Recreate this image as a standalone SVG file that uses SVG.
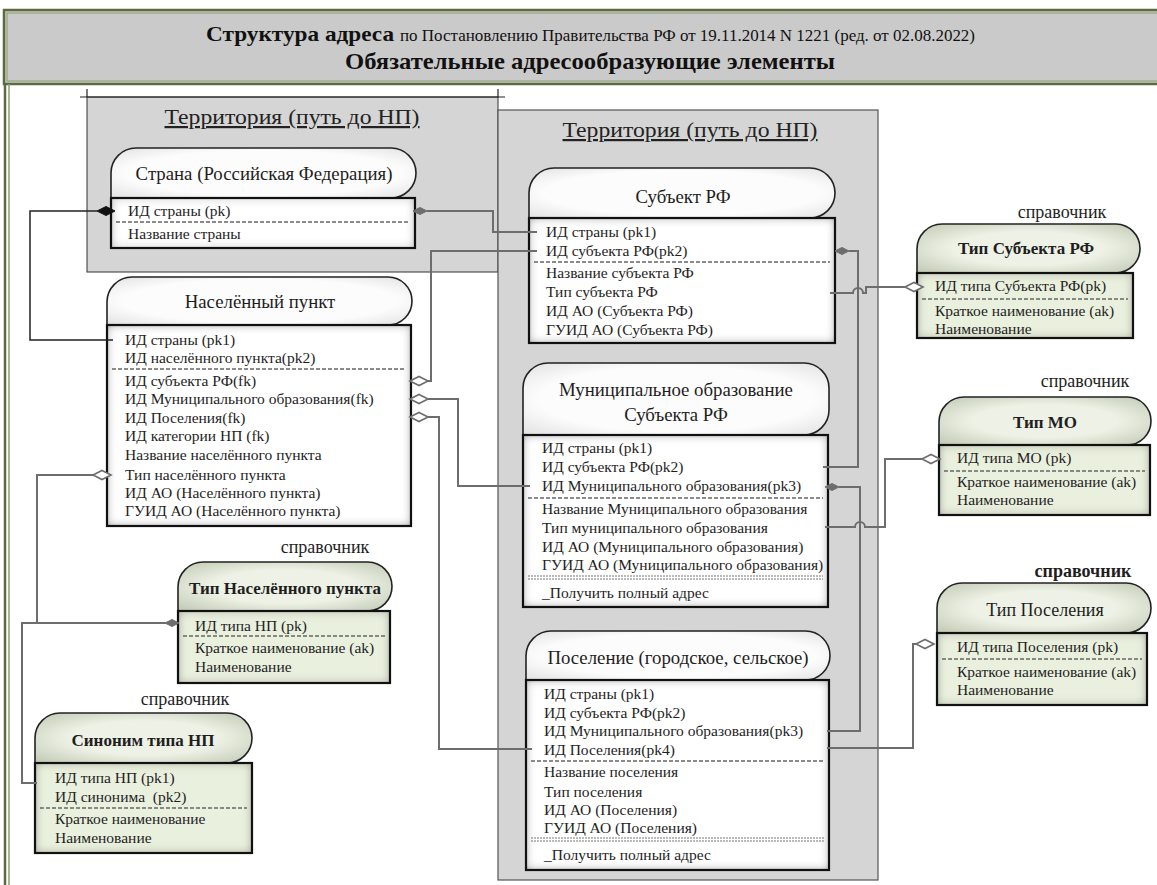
<svg xmlns="http://www.w3.org/2000/svg" width="1157" height="885" viewBox="0 0 1157 885" font-family="'Liberation Serif', 'Times New Roman', serif">
<defs>
<style type="text/css">
text{font-family:'Liberation Serif','Times New Roman',serif}
.t{font-size:15.5px;fill:#1e1e1e}
.h{font-size:18.8px;text-anchor:middle}
.hb{font-size:17px;text-anchor:middle;font-weight:bold}
.hr{font-size:18px;text-anchor:middle}
.sp{font-size:18px;text-anchor:middle}
.ttl{fill:#111}
.hdr{fill:url(#gW);stroke:#222;stroke-width:1.6}
.hdrG{fill:url(#gG);stroke:#222;stroke-width:1.6}
.body{fill:#fff;filter:url(#inset)}
.bodyG{fill:#eaf0de;filter:url(#inset)}
.brd{fill:none;stroke:#111;stroke-width:2.2}
.dash{stroke:#666;stroke-width:1.3;stroke-dasharray:4 2}
.dot{stroke:#777;stroke-width:1;stroke-dasharray:2 1}
.cn{fill:none;stroke:#6d6d6d;stroke-width:2}
.cd{fill:none;stroke:#222;stroke-width:1.5}
.dh{fill:#fff;stroke:#6d6d6d;stroke-width:1.6}
.df{fill:#6d6d6d;stroke:#6d6d6d;stroke-width:1}
.db{fill:#111;stroke:#111;stroke-width:1}
.terr{font-size:22px;fill:#222;text-anchor:middle;text-decoration:underline}
</style>
<radialGradient id="gW" cx="50%" cy="50%" r="75%">
<stop offset="0.6" stop-color="#fcfcfc"/><stop offset="1" stop-color="#dcdcdc"/>
</radialGradient>
<radialGradient id="gG" cx="50%" cy="50%" r="75%">
<stop offset="0.45" stop-color="#eef2e6"/><stop offset="1" stop-color="#b9c2ab"/>
</radialGradient>
<filter id="inset" x="-5%" y="-5%" width="110%" height="110%">
<feFlood flood-color="#000" flood-opacity="0.75" result="f"/>
<feComposite in="f" in2="SourceAlpha" operator="out" result="o"/>
<feGaussianBlur in="o" stdDeviation="5" result="b"/>
<feComposite in="b" in2="SourceAlpha" operator="in" result="s"/>
<feMerge><feMergeNode in="SourceGraphic"/><feMergeNode in="s"/></feMerge>
</filter>
<polygon id="dia" points="-9,0 0,-4.5 9,0 0,4.5"/>
<polygon id="dias" points="-7,0 0,-3.5 7,0 0,3.5"/>
</defs>

<rect width="1157" height="885" fill="#fff"/>

<g id="frame">
<rect x="4" y="10" width="1160" height="74" fill="#cacaca" stroke="#5b6b3e" stroke-width="2.5"/>
<rect x="7" y="13" width="1160" height="68" fill="none" stroke="#8d9c70" stroke-width="1"/>
<line x1="5" y1="84" x2="5" y2="885" stroke="#5b6b3e" stroke-width="2.5"/>
<line x1="9" y1="84" x2="9" y2="885" stroke="#8d9c70" stroke-width="1.5"/>
<text class="ttl" x="206" y="41" style="font-size:21px;font-weight:bold" textLength="188" lengthAdjust="spacingAndGlyphs">Структура адреса</text>
<text class="ttl" x="400" y="41" style="font-size:16px" textLength="575" lengthAdjust="spacingAndGlyphs">по Постановлению Правительства РФ от 19.11.2014 N 1221 (ред. от 02.08.2022)</text>
<text class="ttl" x="345" y="69" style="font-size:24px;font-weight:bold" textLength="490" lengthAdjust="spacingAndGlyphs">Обязательные адресообразующие элементы</text>
</g>

<g id="territory-left">
<rect x="87" y="97" width="411" height="175" fill="#d5d5d5" stroke="#333" stroke-width="1"/>
<line x1="80" y1="97" x2="505" y2="97" stroke="#222" stroke-width="1.2"/>
<line x1="87" y1="89" x2="87" y2="97" stroke="#222" stroke-width="1.2"/>
<line x1="498" y1="89" x2="498" y2="97" stroke="#222" stroke-width="1.2"/>
<text class="terr" x="292" y="124" textLength="255" lengthAdjust="spacingAndGlyphs">Территория (путь до НП)</text>
</g>

<g id="territory-right">
<rect x="498" y="110" width="380" height="770" fill="#d5d5d5" stroke="#555" stroke-width="1.2"/>
<text class="terr" x="690" y="137" textLength="255" lengthAdjust="spacingAndGlyphs">Территория (путь до НП)</text>
</g>

<g id="strana">
<path class="hdr" d="M111,198 V173 A25,25 0 0 1 136,148 H391 A25,25 0 0 1 416,173 A25,25 0 0 1 391,198 Z"/>
<text class="t h" x="264" y="180">Страна (Российская Федерация)</text>
<rect class="body" x="111" y="198" width="304" height="50"/>
<rect class="brd" x="111" y="198" width="304" height="50"/>
<text class="t" x="128" y="216">ИД страны (pk)</text>
<line class="dash" x1="116" y1="222" x2="410" y2="222"/>
<text class="t" x="128" y="239">Название страны</text>
</g>

<g id="naselenny-punkt">
<path class="hdr" d="M107,325 V302 A25,25 0 0 1 132,277 H388 A24,24 0 0 1 412,301 A24,24 0 0 1 388,325 Z"/>
<text class="t h" x="260" y="308">Населённый пункт</text>
<rect class="body" x="107" y="325" width="304" height="201"/>
<rect class="brd" x="107" y="325" width="304" height="201"/>
<text class="t" x="125" y="345">ИД страны (pk1)</text>
<text class="t" x="125" y="363">ИД населённого пункта(pk2)</text>
<line class="dash" x1="112" y1="369" x2="406" y2="369"/>
<text class="t" x="125" y="386">ИД субъекта РФ(fk)</text>
<text class="t" x="125" y="404">ИД Муниципального образования(fk)</text>
<text class="t" x="125" y="423">ИД Поселения(fk)</text>
<text class="t" x="125" y="441">ИД категории НП (fk)</text>
<text class="t" x="125" y="460">Название населённого пункта</text>
<text class="t" x="125" y="480">Тип населённого пункта</text>
<text class="t" x="125" y="498">ИД АО (Населённого пункта)</text>
<text class="t" x="125" y="516">ГУИД АО (Населённого пункта)</text>
</g>

<g id="subekt-rf">
<path class="hdr" d="M529,218 V193 A25,25 0 0 1 554,168 H810 A25,25 0 0 1 835,193 A25,25 0 0 1 810,218 Z"/>
<text class="t h" x="683" y="203">Субъект РФ</text>
<rect class="body" x="529" y="218" width="306" height="125"/>
<rect class="brd" x="529" y="218" width="306" height="125"/>
<text class="t" x="546" y="237">ИД страны (pk1)</text>
<text class="t" x="546" y="256">ИД субъекта РФ(pk2)</text>
<line class="dash" x1="534" y1="262" x2="830" y2="262"/>
<text class="t" x="546" y="278">Название субъекта РФ</text>
<text class="t" x="546" y="297">Тип субъекта РФ</text>
<text class="t" x="546" y="316">ИД АО (Субъекта РФ)</text>
<text class="t" x="546" y="335">ГУИД АО (Субъекта РФ)</text>
</g>

<g id="mun-obr">
<path class="hdr" d="M523,435 V388 A25,25 0 0 1 548,363 H804 A25,25 0 0 1 829,388 V410 A25,25 0 0 1 804,435 Z"/>
<text class="t h" x="676" y="396">Муниципальное образование</text>
<text class="t h" x="676" y="421">Субъекта РФ</text>
<rect class="body" x="523" y="435" width="305" height="172"/>
<rect class="brd" x="523" y="435" width="305" height="172"/>
<text class="t" x="542" y="453">ИД страны (pk1)</text>
<text class="t" x="542" y="472">ИД субъекта РФ(pk2)</text>
<text class="t" x="542" y="491">ИД Муниципального образования(pk3)</text>
<line class="dash" x1="528" y1="498" x2="823" y2="498"/>
<text class="t" x="542" y="514">Название Муниципального образования</text>
<text class="t" x="542" y="533">Тип муниципального образования</text>
<text class="t" x="542" y="552">ИД АО (Муниципального образования)</text>
<text class="t" x="542" y="570">ГУИД АО (Муниципального образования)</text>
<line class="dot" x1="528" y1="576" x2="823" y2="576"/>
<line class="dot" x1="528" y1="579" x2="823" y2="579"/>
<text class="t" x="542" y="598">_Получить полный адрес</text>
</g>

<g id="poselenie">
<path class="hdr" d="M526,680 V656 A25,25 0 0 1 551,631 H805 A24.5,24.5 0 0 1 830,655.5 A24.5,24.5 0 0 1 805,680 Z"/>
<text class="t h" x="678" y="664">Поселение (городское, сельское)</text>
<rect class="body" x="526" y="680" width="303" height="190"/>
<rect class="brd" x="526" y="680" width="303" height="190"/>
<text class="t" x="544" y="699">ИД страны (pk1)</text>
<text class="t" x="544" y="718">ИД субъекта РФ(pk2)</text>
<text class="t" x="544" y="736">ИД Муниципального образования(pk3)</text>
<text class="t" x="544" y="755">ИД Поселения(pk4)</text>
<line class="dash" x1="531" y1="761" x2="824" y2="761"/>
<text class="t" x="544" y="777">Название поселения</text>
<text class="t" x="544" y="797">Тип поселения</text>
<text class="t" x="544" y="815">ИД АО (Поселения)</text>
<text class="t" x="544" y="833">ГУИД АО (Поселения)</text>
<line class="dot" x1="531" y1="838" x2="824" y2="838"/>
<line class="dot" x1="531" y1="841" x2="824" y2="841"/>
<text class="t" x="544" y="860">_Получить полный адрес</text>
</g>

<g id="tip-subekta">
<text class="t sp" x="1062" y="218">справочник</text>
<path class="hdrG" d="M917,273 V249 A25,25 0 0 1 942,224 H1116 A24.5,24.5 0 0 1 1140,248.5 A24.5,24.5 0 0 1 1116,273 Z"/>
<text class="t hb" x="1026" y="254">Тип Субъекта РФ</text>
<rect class="bodyG" x="917" y="273" width="216" height="65"/>
<rect class="brd" x="917" y="273" width="216" height="65"/>
<text class="t" x="935" y="291">ИД типа Субъекта РФ(pk)</text>
<line class="dash" x1="922" y1="299" x2="1128" y2="299"/>
<text class="t" x="935" y="316">Краткое наименование (ak)</text>
<text class="t" x="935" y="334">Наименование</text>
</g>

<g id="tip-mo">
<text class="t sp" x="1085" y="387">справочник</text>
<path class="hdrG" d="M939,445 V422 A25,25 0 0 1 964,397 H1127 A24,24 0 0 1 1151,421 A24,24 0 0 1 1127,445 Z"/>
<text class="t hb" x="1045" y="428">Тип МО</text>
<rect class="bodyG" x="939" y="445" width="211" height="70"/>
<rect class="brd" x="939" y="445" width="211" height="70"/>
<text class="t" x="957" y="463">ИД типа МО (pk)</text>
<line class="dash" x1="944" y1="471" x2="1145" y2="471"/>
<text class="t" x="957" y="487">Краткое наименование (ak)</text>
<text class="t" x="957" y="505">Наименование</text>
</g>

<g id="tip-poseleniya">
<text class="t sp" x="1083" y="577" font-weight="bold">справочник</text>
<path class="hdrG" d="M937,633 V608 A25,25 0 0 1 962,583 H1126 A25,25 0 0 1 1151,608 A25,25 0 0 1 1126,633 Z"/>
<text class="t hr" x="1045" y="616">Тип Поселения</text>
<rect class="bodyG" x="937" y="633" width="210" height="72"/>
<rect class="brd" x="937" y="633" width="210" height="72"/>
<text class="t" x="957" y="652">ИД типа Поселения (pk)</text>
<line class="dash" x1="942" y1="659" x2="1142" y2="659"/>
<text class="t" x="957" y="677">Краткое наименование (ak)</text>
<text class="t" x="957" y="695">Наименование</text>
</g>

<g id="tip-np">
<text class="t sp" x="325" y="553">справочник</text>
<path class="hdrG" d="M178,611 V587 A25,25 0 0 1 203,562 H368 A24.5,24.5 0 0 1 392,586.5 A24.5,24.5 0 0 1 368,611 Z"/>
<text class="t hb" x="285" y="594">Тип Населённого пункта</text>
<rect class="bodyG" x="178" y="611" width="212" height="72"/>
<rect class="brd" x="178" y="611" width="212" height="72"/>
<text class="t" x="195" y="631">ИД типа НП (pk)</text>
<line class="dash" x1="183" y1="636" x2="385" y2="636"/>
<text class="t" x="195" y="653">Краткое наименование (ak)</text>
<text class="t" x="195" y="672">Наименование</text>
</g>

<g id="sinonim-tipa-np">
<text class="t sp" x="185" y="705">справочник</text>
<path class="hdrG" d="M35,763 V738 A25,25 0 0 1 60,713 H227 A25,25 0 0 1 252,738 A25,25 0 0 1 227,763 Z"/>
<text class="t hb" x="143" y="746">Синоним типа НП</text>
<rect class="bodyG" x="35" y="763" width="217" height="90"/>
<rect class="brd" x="35" y="763" width="217" height="90"/>
<text class="t" x="55" y="783">ИД типа НП (pk1)</text>
<text class="t" x="55" y="802" style="white-space:pre">ИД синонима  (pk2)</text>
<line class="dash" x1="40" y1="808" x2="247" y2="808"/>
<text class="t" x="55" y="824">Краткое наименование</text>
<text class="t" x="55" y="843">Наименование</text>
</g>

<g id="connectors">
<path class="cd" d="M97,211 H30 V340 H113"/>
<use href="#dia" x="106" y="211" class="db"/>
<path class="cn" d="M427,211 H493 V232 H537"/>
<use href="#dias" x="420" y="211" class="df"/>
<path class="cn" d="M537,251 H431 V381 H428"/>
<use href="#dia" x="419" y="381" class="dh"/>
<path class="cn" d="M530,486 H458 V399 H428"/>
<use href="#dia" x="419" y="399" class="dh"/>
<path class="cn" d="M532,749 H439 V417 H428"/>
<use href="#dia" x="419" y="417" class="dh"/>
<path class="cn" d="M849,251 H858 V467 H823"/>
<use href="#dias" x="842" y="251" class="df"/>
<path class="cn" d="M839,487 H860 V731 H827"/>
<use href="#dias" x="832" y="487" class="df"/>
<path class="cn" d="M830,293 H853 A5,5 0 0 1 863,293 H866 V287 H905"/>
<use href="#dia" x="914" y="287" class="dh"/>
<path class="cn" d="M825,527 H855 A5,5 0 0 1 865,527 H885 V459 H922"/>
<use href="#dia" x="931" y="459" class="dh"/>
<path class="cn" d="M827,748 H913 V644 H916"/>
<use href="#dia" x="925" y="644" class="dh"/>
<path class="cn" d="M93,475 H37 V623 H166"/>
<use href="#dia" x="102" y="475" class="dh"/>
<use href="#dias" x="172" y="623" class="df"/>
<path class="cn" d="M37,783 H22 V623 H37"/>
</g>
</svg>
